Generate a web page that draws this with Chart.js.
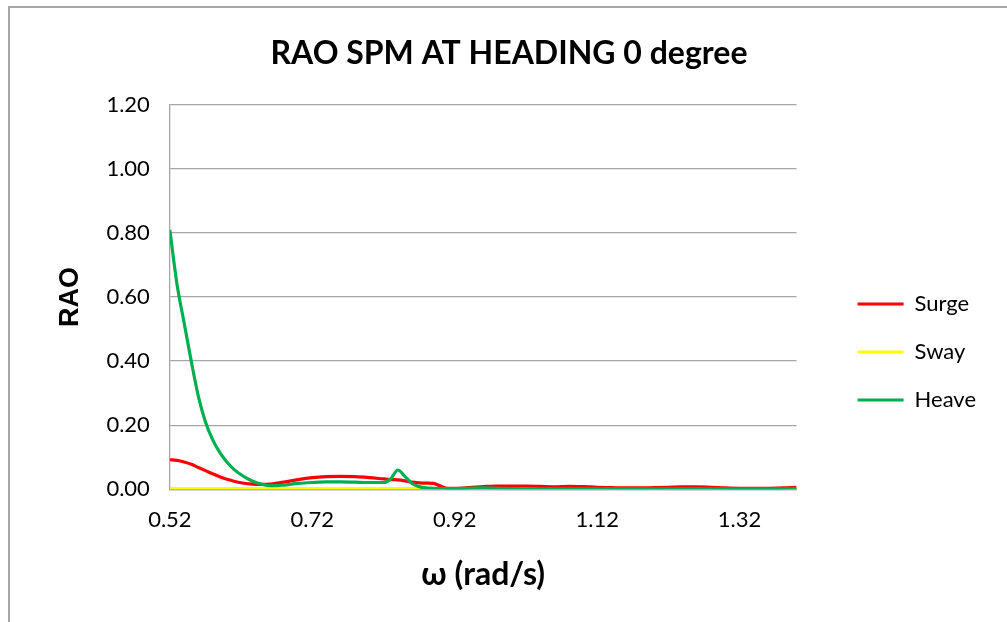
<!DOCTYPE html>
<html>
<head>
<meta charset="utf-8">
<script src="https://cdn.jsdelivr.net/npm/chart.js@4.4.1/dist/chart.umd.min.js"></script>
<style>
    body { margin: 0; background: #fff; overflow: hidden; }
    #frame { position: absolute; left: 8px; top: 6px; width: 1030px; height: 650px; border: 2px solid #a6a6a6; }
    #box { position: absolute; left: 0; top: 0; width: 1007px; height: 622px; }
</style>
</head>
<body>
<div id="frame"></div>
<div id="box"><canvas id="raoChart"></canvas></div>
<script>
// wave frequency (rad/s)
const omega = [0.52, 0.53, 0.54, 0.55, 0.56, 0.57, 0.58, 0.59, 0.60, 0.61, 0.62, 0.63, 0.64, 0.65, 0.66, 0.67, 0.68,
    0.70, 0.72, 0.74, 0.76, 0.78, 0.80, 0.82,
    0.83, 0.84, 0.85, 0.86, 0.87, 0.88, 0.89, 0.90, 0.91, 0.92,
    0.94, 0.96, 0.98, 1.00, 1.02, 1.04, 1.06, 1.08, 1.10, 1.12, 1.14, 1.16, 1.18, 1.20,
    1.22, 1.24, 1.26, 1.28, 1.30, 1.32, 1.34, 1.36, 1.38, 1.40];

const surge = [0.092, 0.090, 0.085, 0.078, 0.068, 0.058, 0.048, 0.039, 0.031, 0.025, 0.020, 0.017, 0.015, 0.015, 0.016, 0.019, 0.022,
    0.030, 0.036, 0.039, 0.040, 0.039, 0.036, 0.032,
    0.030, 0.029, 0.026, 0.022, 0.020, 0.019, 0.018, 0.010, 0.003, 0.003,
    0.005, 0.008, 0.010, 0.010, 0.010, 0.009, 0.007, 0.009, 0.008, 0.006, 0.005, 0.004, 0.004, 0.005,
    0.006, 0.007, 0.007, 0.006, 0.004, 0.003, 0.003, 0.003, 0.004, 0.006];

const sway = [0.002, 0.002, 0.002, 0.002, 0.002, 0.002, 0.002, 0.002, 0.002, 0.002, 0.002, 0.002, 0.002, 0.002, 0.002, 0.002, 0.002,
    0.002, 0.002, 0.002, 0.002, 0.002, 0.002, 0.002,
    0.002, 0.002, 0.002, 0.002, 0.002, 0.002, 0.002, 0.002, 0.002, 0.002,
    0.002, 0.002, 0.002, 0.002, 0.002, 0.002, 0.002, 0.002, 0.002, 0.002, 0.002, 0.002, 0.002, 0.002,
    0.001, 0.001, 0.001, 0.001, 0.001, 0.001, 0.001, 0.001, 0.001, 0.001];

const heave = [0.81, 0.64, 0.52, 0.40, 0.29, 0.21, 0.155, 0.115, 0.085, 0.062, 0.045, 0.032, 0.022, 0.015, 0.011, 0.011, 0.013,
    0.018, 0.021, 0.023, 0.023, 0.022, 0.021, 0.021,
    0.032, 0.060, 0.040, 0.018, 0.008, 0.004, 0.003, 0.002, 0.002, 0.002,
    0.003, 0.004, 0.003, 0.002, 0.001, 0.001, 0.001, 0.001, 0.001, 0.001, 0.001, 0.001, 0.001, 0.001,
    0.001, 0.001, 0.001, 0.001, 0.001, 0.001, 0.001, 0.001, 0.001, 0.001];

const xTicks = [0.52, 0.72, 0.92, 1.12, 1.32];

const toPoints = (ys) => omega.map((x, i) => ({ x: x, y: ys[i] }));

const baseFont = "Lato, 'Open Sans', sans-serif";
const gridGray = '#a6a6a6';

function initRaoChart() {
    const ctx = document.getElementById('raoChart').getContext('2d');
    new Chart(ctx, {
        type: 'line',
        data: {
            datasets: [
                { label: 'Surge', data: toPoints(surge), borderColor: '#ff0000', backgroundColor: '#ff0000', order: 2 },
                { label: 'Sway', data: toPoints(sway), borderColor: '#ffff00', backgroundColor: '#ffff00', order: 3 },
                { label: 'Heave', data: toPoints(heave), borderColor: '#00b050', backgroundColor: '#00b050', order: 1 }
            ]
        },
        options: {
            responsive: true,
            maintainAspectRatio: false,
            animation: false,
            datasets: {
                line: { borderWidth: 3.2, pointRadius: 0, cubicInterpolationMode: 'monotone', fill: false }
            },
            layout: { padding: { left: 32, right: 21, top: 0, bottom: 18 } },
            plugins: {
                title: {
                    display: true,
                    text: 'RAO SPM AT HEADING 0 degree',
                    color: '#000',
                    font: { family: baseFont, size: 32, weight: 'bold' },
                    padding: { top: 34, bottom: 32.6 }
                },
                legend: {
                    position: 'right',
                    title: { display: true, text: '', padding: { top: 43, bottom: 42.6 } },
                    labels: {
                        color: '#000',
                        font: { family: baseFont, size: 22 },
                        usePointStyle: true,
                        pointStyle: 'line',
                        pointStyleWidth: 46,
                        padding: 26,
                        sort: (a, b) => a.datasetIndex - b.datasetIndex
                    }
                },
                tooltip: { enabled: false }
            },
            scales: {
                x: {
                    type: 'linear',
                    min: 0.52,
                    max: 1.40,
                    grid: { display: false, drawTicks: false },
                    border: { display: true, color: gridGray, width: 1.3 },
                    afterBuildTicks: (scale) => { scale.ticks = xTicks.map(v => ({ value: v })); },
                    ticks: {
                        color: '#000',
                        font: { family: baseFont, size: 22 },
                        padding: 18,
                        autoSkip: false,
                        maxRotation: 0,
                        callback: (v) => Number(v).toFixed(2)
                    },
                    title: {
                        display: true,
                        text: 'ω (rad/s)',
                        color: '#000',
                        font: { family: baseFont, size: 32, weight: 'bold' },
                        padding: { top: 4, bottom: 10 }
                    }
                },
                y: {
                    min: 0,
                    max: 1.2,
                    grid: { color: gridGray, lineWidth: 1.3, drawTicks: false },
                    border: { display: true, color: gridGray, width: 1.3 },
                    ticks: {
                        stepSize: 0.2,
                        color: '#000',
                        font: { family: baseFont, size: 22 },
                        padding: 20,
                        callback: (v) => Number(v).toFixed(2)
                    },
                    title: {
                        display: true,
                        text: 'RAO',
                        color: '#000',
                        font: { family: "'Liberation Sans', Arial, sans-serif", size: 27, weight: 'bold' },
                        padding: { top: 22, bottom: 0 }
                    }
                },
                gap: {
                    // empty right-hand axis: keeps the space between plot and legend
                    position: 'right',
                    display: true,
                    grid: { display: false },
                    border: { display: false },
                    ticks: { display: false },
                    afterFit: (scale) => { scale.width = 35; }
                }
            }
        }
    });
}

document.addEventListener('DOMContentLoaded', function() {
    initRaoChart();
});
</script>
</body>
</html>
